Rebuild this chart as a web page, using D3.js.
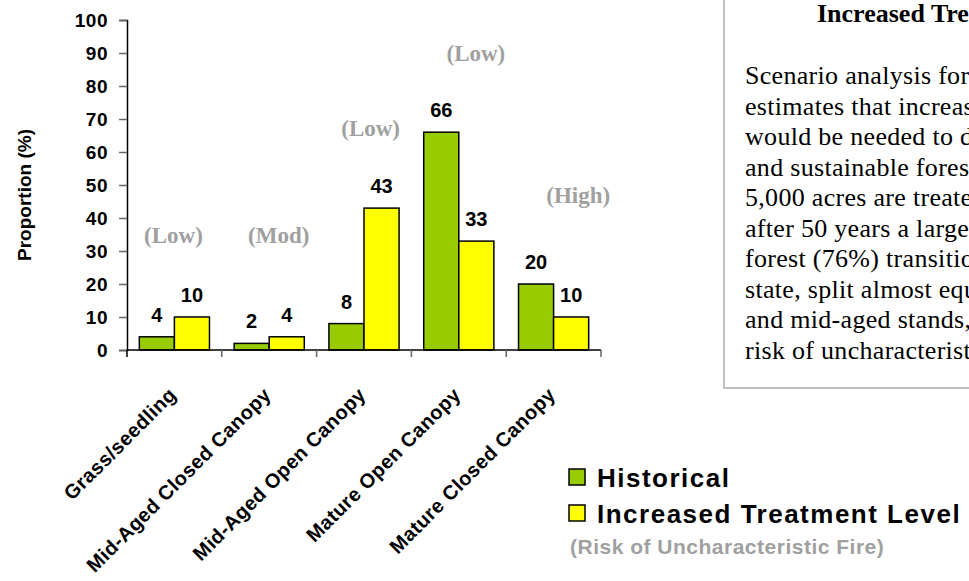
<!DOCTYPE html>
<html>
<head>
<meta charset="utf-8">
<script src="https://cdn.jsdelivr.net/npm/d3@7"></script>
<style>
  html, body { margin: 0; padding: 0; background: #ffffff; }
  svg { display: block; }
</style>
</head>
<body>
<svg id="chart" width="969" height="581"></svg>
<script>
// Forest structure classes
const categories = [
  "Grass/seedling",
  "Mid-Aged Closed Canopy",
  "Mid-Aged Open Canopy",
  "Mature Open Canopy",
  "Mature Closed Canopy"
];
const seriesNames = ["Historical", "Increased Treatment Level"];
const historical = [4, 2, 8, 66, 20];
const increasedTreatment = [10, 4, 43, 33, 10];
// Fire risk rating for each class
const riskLevels = ["(Low)", "(Mod)", "(Low)", "(Low)", "(High)"];
const yTicks = [0, 10, 20, 30, 40, 50, 60, 70, 80, 90, 100];

// Annotation placement for the risk ratings: height on the value scale,
// and horizontal shift as a fraction of a category step
const riskAnchorValue = [32.4, 32.4, 64.8, 87.6, 44.5];
const riskAnchorShift = [-0.01, 0.1, 0.07, 0.18, 0.26];

const noteTitle = "Increased Treatment";
const noteLines = [
  "Scenario analysis for the project area",
  "estimates that increased treatment levels",
  "would be needed to develop a resilient",
  "and sustainable forest. If approximately",
  "5,000 acres are treated each decade,",
  "after 50 years a large proportion of the",
  "forest (76%) transitions to an open canopy",
  "state, split almost equally between mature",
  "and mid-aged stands, which have a low",
  "risk of uncharacteristic fire."
];

const colors = ["#99cc00", "#ffff00"];
const SANS = "'Liberation Sans', Arial, sans-serif";
const SERIF = "'Liberation Serif', 'Times New Roman', serif";

const svg = d3.select("#chart");

const plot = { left: 127, right: 601, top: 20, bottom: 350 };

const y = d3.scaleLinear().domain([0, 100]).range([plot.bottom, plot.top]);
const x = d3.scaleBand()
  .domain(categories)
  .range([plot.left, plot.right])
  .paddingInner(0.26)
  .paddingOuter(0.13);
const xSub = d3.scaleBand().domain(seriesNames).range([0, x.bandwidth()]);

const rows = categories.map((c, i) => ({
  category: c,
  values: [historical[i], increasedTreatment[i]]
}));

// Y axis
const yAxis = svg.append("g")
  .attr("transform", `translate(${plot.left},0)`)
  .call(d3.axisLeft(y).tickValues(yTicks).tickSize(8).tickPadding(11));
yAxis.select(".domain").attr("stroke", "#000").attr("stroke-width", 1.5);
yAxis.selectAll(".tick line").attr("stroke", "#666").attr("stroke-width", 1.5);
yAxis.selectAll(".tick text")
  .attr("font-family", SANS).attr("font-size", 19).attr("font-weight", "bold")
  .attr("letter-spacing", 0.5).attr("fill", "#000");

// Y axis title
svg.append("text")
  .attr("transform", `translate(31,${(plot.top + plot.bottom) / 2 + 10}) rotate(-90)`)
  .attr("text-anchor", "middle")
  .attr("font-family", SANS).attr("font-size", 19).attr("font-weight", "bold")
  .attr("fill", "#000")
  .text("Proportion (%)");

// Bars
const groups = svg.append("g").selectAll("g")
  .data(rows)
  .join("g")
  .attr("transform", d => `translate(${x(d.category)},0)`);

groups.selectAll("rect")
  .data(d => d.values.map((v, j) => ({ series: seriesNames[j], value: v, j })))
  .join("rect")
  .attr("x", d => xSub(d.series))
  .attr("y", d => y(d.value))
  .attr("width", xSub.bandwidth())
  .attr("height", d => y(0) - y(d.value))
  .attr("fill", d => colors[d.j])
  .attr("stroke", "#000")
  .attr("stroke-width", 1.5);

// Value labels
groups.selectAll("text.value")
  .data(d => d.values.map((v, j) => ({ series: seriesNames[j], value: v })))
  .join("text")
  .attr("class", "value")
  .attr("x", d => xSub(d.series) + xSub.bandwidth() / 2)
  .attr("y", d => y(d.value) - 15)
  .attr("text-anchor", "middle")
  .attr("font-family", SANS).attr("font-size", 20).attr("font-weight", "bold")
  .attr("fill", "#000")
  .text(d => d.value);

// X axis: baseline with ticks on category boundaries
const xAxisG = svg.append("g");
xAxisG.append("line")
  .attr("x1", plot.left).attr("x2", plot.right)
  .attr("y1", y(0)).attr("y2", y(0))
  .attr("stroke", "#000").attr("stroke-width", 1.5);
const step = x.step();
const boundaries = categories.map(c => x(c) - step * x.paddingInner() / 2)
  .concat([x(categories[categories.length - 1]) + x.bandwidth() + step * x.paddingInner() / 2]);
xAxisG.selectAll("line.tick")
  .data(boundaries)
  .join("line")
  .attr("class", "tick")
  .attr("x1", d => d).attr("x2", d => d)
  .attr("y1", y(0)).attr("y2", y(0) + 7)
  .attr("stroke", d => (d === boundaries[0] ? "#000" : "#666"))
  .attr("stroke-width", 1.5);

// Category labels, rotated
svg.append("g").selectAll("text")
  .data(categories)
  .join("text")
  .attr("transform", d => `translate(${x(d) + x.bandwidth() / 2 + 3},${y(0) + 46}) rotate(-45)`)
  .attr("text-anchor", "end")
  .attr("font-family", SANS).attr("font-size", 20).attr("font-weight", "bold")
  .attr("letter-spacing", 0.4)
  .attr("fill", "#000")
  .text(d => d);

// Risk ratings
svg.append("g").selectAll("text")
  .data(riskLevels)
  .join("text")
  .attr("x", (d, i) => x(categories[i]) + x.bandwidth() / 2 + riskAnchorShift[i] * step)
  .attr("y", (d, i) => y(riskAnchorValue[i]))
  .attr("text-anchor", "middle")
  .attr("font-family", SERIF).attr("font-size", 23).attr("font-weight", "bold")
  .attr("fill", "#a0a0a0")
  .text(d => d);

// Legend
const legend = svg.append("g");
seriesNames.forEach((name, j) => {
  const ly = 469 + j * 36;
  legend.append("rect")
    .attr("x", 569).attr("y", ly).attr("width", 16).attr("height", 16)
    .attr("fill", colors[j]).attr("stroke", "#000").attr("stroke-width", 1.5);
  legend.append("text")
    .attr("x", 597).attr("y", ly + 18)
    .attr("font-family", SANS).attr("font-size", 26).attr("font-weight", "bold")
    .attr("letter-spacing", 1.5)
    .attr("fill", "#000")
    .text(name);
});
legend.append("text")
  .attr("x", 570).attr("y", 554)
  .attr("font-family", SANS).attr("font-size", 21).attr("font-weight", "bold")
  .attr("letter-spacing", 0.5)
  .attr("fill", "#a0a0a0")
  .text("(Risk of Uncharacteristic Fire)");

// Note box on the right
const note = svg.append("g");
note.append("rect")
  .attr("x", 724).attr("y", -10).attr("width", 400).attr("height", 398)
  .attr("fill", "#fff").attr("stroke", "#c0c0c0").attr("stroke-width", 2);
note.append("text")
  .attr("x", 817).attr("y", 21.5)
  .attr("font-family", SERIF).attr("font-size", 26).attr("font-weight", "bold")
  .attr("fill", "#000")
  .text(noteTitle);
note.selectAll("text.line")
  .data(noteLines)
  .join("text")
  .attr("class", "line")
  .attr("x", 745)
  .attr("y", (d, i) => 84 + i * 30.5)
  .attr("font-family", SERIF).attr("font-size", 26)
  .attr("letter-spacing", 0.3)
  .attr("fill", "#000")
  .text(d => d);
</script>
</body>
</html>
